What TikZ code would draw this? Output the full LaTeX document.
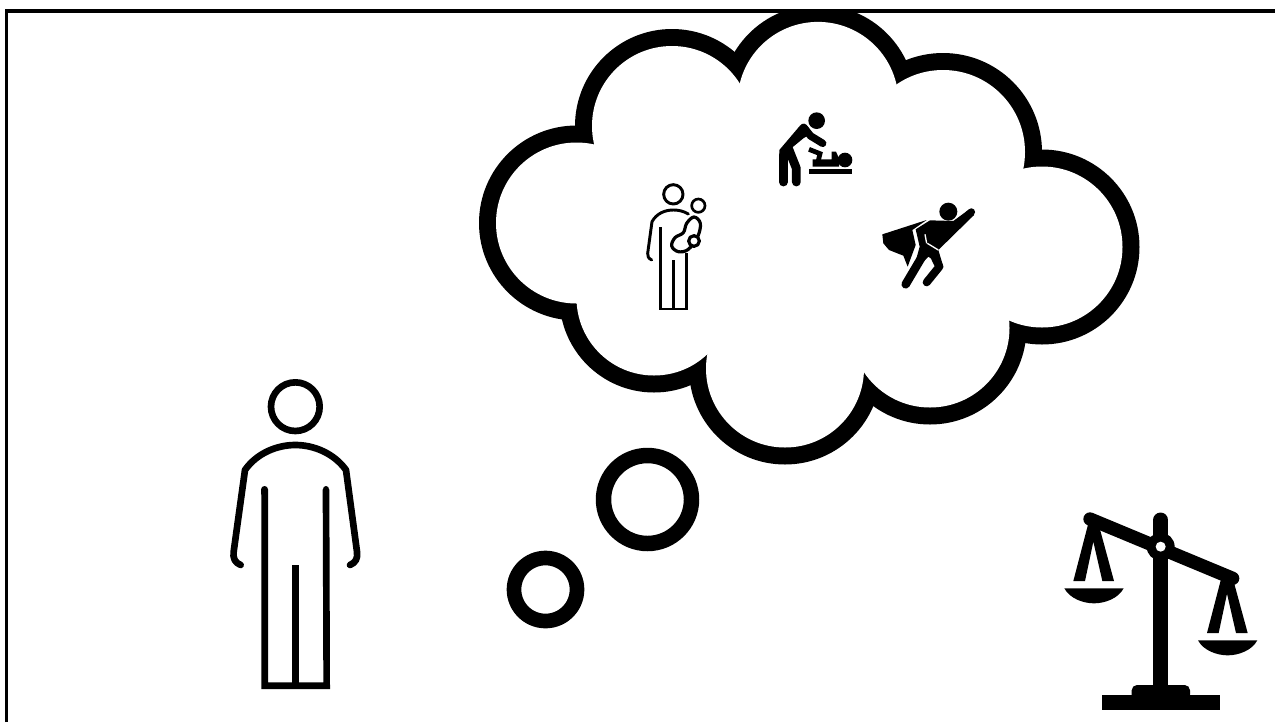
\documentclass[tikz,border=0pt]{standalone}
\usepackage{xcolor}
\usepackage{tikz}
\tikzset{
frameline/.style={line width=2.4pt,line join=miter},
bubble/.style={draw,line width=11.6pt},
zoomed/.style={x=.25pt,y=-.25pt},
bigline/.style={line width=5pt,line cap=round,line join=round},
smallline/.style={line width=2pt,line cap=round,line join=round},
solidline/.style={line width=#1,line cap=round,line join=round}
}
\begin{document}
\begin{tikzpicture}[x=.75pt,y=-.75pt]
\useasboundingbox (0,0) rectangle (1275,722);
% cloud: black discs, then white discs on top
\begin{scope}
\clip (0,9) rectangle (1275,722);
\foreach \cx/\cy/\rad in {576.5/223/89,672/126/88.5,818/102.4/89,943/152/90.5,1042/247/89,930/328/88,785/368.5/87.5,654/298/86}
  \fill (\cx,\cy) circle[radius=\rad+8.5];
\foreach \cx/\cy/\rad in {576.5/223/89,672/126/88.5,818/102.4/89,943/152/90.5,1042/247/89,930/328/88,785/368.5/87.5,654/298/86}
  \fill[white] (\cx,\cy) circle[radius=\rad-8.5];
\fill[white] (576.5,223)--(672,126)--(818,102.4)--(943,152)--(1042,247)--(930,328)--(785,368.5)--(654,298)--cycle;
\end{scope}
\draw[frameline] (6.6,722)--(6.6,11)--(1275,11);
\draw[bubble] (647.5,499.5) circle[radius=44];
\draw[bubble,line width=11pt] (545.5,589.5) circle[radius=31.5];
% thinker
\begin{scope}[shift={(210,370)},zoomed]
\draw[bigline] (256,110) circle[radius=73];
\draw[bigline] (92,585) .. controls (75,578) and (68,565) .. (71,545) -- (105,300)
  .. controls (140,250) and (200,225) .. (256,225) .. controls (312,225) and (372,250) .. (408,300)
  -- (441,545) .. controls (444,565) and (437,578) .. (420,585);
\draw[bigline,line cap=butt,line join=miter] (164,358)--(164,947)--(350,947)--(348,358);
\draw[bigline,line cap=round] (164,358)--(164,370) (348,358)--(348,370);
\draw[bigline,line cap=butt] (257,585)--(257,947);
\end{scope}
% scales
\begin{scope}[shift={(1050,500)},zoomed]
\draw[solidline=11.2pt,line cap=round] (332,60)--(332,300);
\fill (310,200) rectangle (355,570);
\draw[solidline=10pt] (120,57)--(548,235);
\fill (332,140) circle[radius=42];
\fill[white] (332,140) circle[radius=15];
\fill[rounded corners=4pt] (245,600)--(245,555)--(420,555)--(420,600)--cycle;
\fill (155,585) rectangle (510,630);
\foreach \dx/\dy in {0/0,401/156}{
  \fill (70+\dx,243+\dy)--(115+\dx,70+\dy)--(145+\dx,70+\dy)--(192+\dx,243+\dy)--(157+\dx,243+\dy)--(130+\dx,125+\dy)--(105+\dx,243+\dy)--cycle;
  \fill (43+\dx,265+\dy)--(221+\dx,265+\dy) .. controls (205+\dx,295+\dy) and (165+\dx,310+\dy) .. (132+\dx,310+\dy) .. controls (99+\dx,310+\dy) and (59+\dx,295+\dy) .. (43+\dx,265+\dy)--cycle;
}
\end{scope}
% parent with child
\begin{scope}[shift={(620,90)},zoomed]
\draw[smallline,line width=2.2pt] (160,313) circle[radius=29];
\draw[smallline] (235,347) circle[radius=20];
\draw[smallline,line width=2.2pt] (95,510) .. controls (85,505) and (82,498) .. (83,490) -- (96,395)
  .. controls (110,370) and (135,360) .. (160,360) .. controls (175,360) and (190,363) .. (205,372);
\draw[smallline,line cap=butt,line join=miter] (122,412)--(122,657)--(200,657)--(200,488);
\draw[smallline,line cap=butt] (160,510)--(160,657);
\draw[smallline,line width=2.4pt] plot[smooth cycle,tension=.6] coordinates {(222,381) (241,400) (233,440) (205,478) (175,485) (155,468) (165,443) (190,428) (200,400)};
\draw[smallline,fill=white,line width=2.4pt] (222,453) circle[radius=16];
\end{scope}
% changing a baby
\begin{scope}[shift={(770,105)},zoomed]
\fill (140,47) circle[radius=25];
\fill (28,135)--(90,62) .. controls (98,52) and (108,55) .. (114,65)--(125,85)--(100,100)--(66,128)--(55,165)--(28,165)--cycle;
\draw[solidline=6.6pt] (40,150)--(40,231);
\draw[solidline=6.6pt] (56,132)--(79,190)--(79,231);
\draw[solidline=5.6pt] (105,72)--(122,93)--(158,115);
\fill (225,165) circle[radius=22];
\draw[solidline=3.6pt,line join=miter,line cap=butt] (117,133)--(150,146)--(143,175);
\fill (128,163)--(128,185)--(207,185)--(207,160)--(198,140)--(185,140)--(185,163)--cycle;
\fill (117,193) rectangle (247,206);
\end{scope}
% caped figure
\begin{scope}[shift={(875,195)},zoomed]
\fill (220,50) circle[radius=27];
\fill (22,118)--(155,75)--(112,105)--(122,150)--(98,215)--(85,182)--(42,165)--(25,145)--cycle;
\fill (122,103)--(165,76)--(235,78)--(280,45)--(297,60)--(190,165)--(205,215)--(160,185)--(112,235)--(134,155)--cycle;
\draw[solidline=5.6pt] (240,98)--(289,51);
\draw[solidline=6.4pt] (150,170)--(92,268);
\draw[solidline=6pt] (172,172)--(193,215)--(155,262);
\draw[white,line width=1pt] (150,118)--(155,145);
\draw[white,line width=1pt] (157,145)--(190,165);
\end{scope}
\end{tikzpicture}
\end{document}
